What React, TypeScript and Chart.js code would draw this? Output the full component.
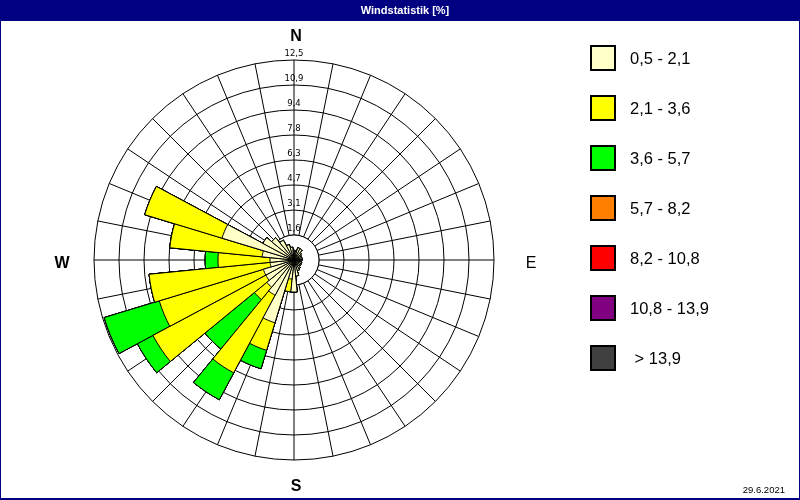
import { useEffect, useRef } from 'react';
import { Chart, registerables } from 'chart.js';

Chart.register(...registerables);

// ---- data ----
const chartTitle = 'Windstatistik [%]';
const chartDate = '29.6.2021';
const directions = [
  'N', 'NzO', 'NNO', 'NOzN', 'NO', 'NOzO', 'ONO', 'OzN',
  'O', 'OzS', 'OSO', 'SOzO', 'SO', 'SOzS', 'SSO', 'SzO',
  'S', 'SzW', 'SSW', 'SWzS', 'SW', 'SWzW', 'WSW', 'WzS',
  'W', 'WzN', 'WNW', 'NWzW', 'NW', 'NWzN', 'NNW', 'NzW',
];
const compassLabels = ['N', 'E', 'S', 'W'];
const tickLabels = ['1,6', '3,1', '4,7', '6,3', '7,8', '9,4', '10,9', '12,5'];
const classLabels = ['0,5 - 2,1', '2,1 - 3,6', '3,6 - 5,7', '5,7 - 8,2', '8,2 - 10,8', '10,8 - 13,9', '> 13,9'];
const classColors = ['#FFFFC8', '#FFFF00', '#00FF00', '#FF8000', '#FF0000', '#800080', '#404040'];

// frequency [%] per direction (N clockwise, 32 sectors) for each speed class
const class1 = [0.6, 0.5, 0.8, 0.8, 0.6, 0.5, 0.5, 0.5, 0.5, 0.4, 0.5, 0.5, 0.5, 0.6, 0.7, 1.0,
  2.0, 1.2, 4.1, 2.5, 2.2, 2.0, 2.0, 1.5, 1.5, 2.0, 4.7, 2.2, 1.8, 1.4, 1.0, 0.8];
const class2 = [0, 0, 0, 0, 0, 0, 0, 0, 0, 0, 0, 0, 0, 0, 0, 0,
  0, 0.8, 1.8, 5.5, 1.0, 8.0, 6.8, 7.6, 3.25, 5.8, 5.05, 0, 0, 0, 0, 0];
const class3 = [0, 0, 0, 0, 0, 0, 0, 0, 0, 0, 0, 0, 0, 0, 0, 0,
  0, 0, 1.2, 1.9, 4.0, 1.1, 3.6, 0, 0.8, 0, 0, 0, 0, 0, 0, 0];
const class4 = new Array(32).fill(0);
const class5 = new Array(32).fill(0);
const class6 = new Array(32).fill(0);
const class7 = new Array(32).fill(0);
const classes = [class1, class2, class3, class4, class5, class6, class7];

const SECTOR = 360 / directions.length;

function buildDatasets() {
  const running = new Array(directions.length).fill(0);
  return classes.map((cls, k) => {
    for (let i = 0; i < running.length; i++) running[i] += cls[i];
    const cum = running.slice();
    // north sector is split in two halves so that every sector is centred on its direction
    const data = [...cum, cum[0]];
    return {
      label: classLabels[k],
      data,
      backgroundColor: classColors[k],
      borderColor: '#000',
      borderWidth: 1,
      angle: (ctx: any) => (ctx.dataIndex === 0 || ctx.dataIndex === directions.length ? SECTOR / 2 : SECTOR),
    };
  });
}

const FONT = '"Liberation Sans", Arial, sans-serif';

const decor = {
  id: 'windDecor',
  beforeDraw(chart: any) {
    const { ctx, width, height } = chart;
    ctx.save();
    ctx.fillStyle = '#fff';
    ctx.fillRect(0, 0, width, height);
    ctx.fillStyle = '#000080';
    ctx.fillRect(0, 0, width, 21);
    ctx.fillStyle = '#fff';
    ctx.font = `bold 11px ${FONT}`;
    ctx.textAlign = 'center';
    ctx.textBaseline = 'middle';
    ctx.fillText(chartTitle, 405, 11);
    ctx.restore();
  },
  beforeDatasetsDraw(chart: any) {
    const s = chart.scales.r;
    const ctx = chart.ctx;
    const r = s.getDistanceFromCenterForValue(s.ticks[1].value);
    ctx.save();
    ctx.beginPath();
    ctx.arc(s.xCenter, s.yCenter, r, 0, Math.PI * 2);
    ctx.fillStyle = '#fff';
    ctx.fill();
    ctx.strokeStyle = '#000';
    ctx.lineWidth = 1;
    ctx.stroke();
    ctx.restore();
  },
  afterDatasetsDraw(chart: any) {
    const s = chart.scales.r;
    const ctx = chart.ctx;
    ctx.save();
    ctx.fillStyle = '#000';
    ctx.font = `8.5px "DejaVu Sans", sans-serif`;
    ctx.textAlign = 'center';
    ctx.textBaseline = 'alphabetic';
    s.ticks.forEach((t: any, i: number) => {
      if (i === 0) return;
      const d = s.getDistanceFromCenterForValue(t.value);
      ctx.fillText(tickLabels[i - 1], s.xCenter, s.yCenter - d - 4.5);
    });
    // compass labels
    const off = [
      [2, -223], [237, 4], [2, 227], [-232, 4],
    ];
    ctx.textBaseline = 'middle';
    compassLabels.forEach((lab, i) => {
      ctx.font = i === 1 ? `16px ${FONT}` : `bold 16px ${FONT}`;
      ctx.fillText(lab, s.xCenter + off[i][0], s.yCenter + off[i][1]);
    });
    ctx.restore();
  },
  afterDraw(chart: any) {
    const ctx = chart.ctx;
    ctx.save();
    // legend
    chart.data.datasets.forEach((ds: any, i: number) => {
      const y = 46 + i * 50;
      ctx.fillStyle = ds.backgroundColor;
      ctx.fillRect(591, y, 24, 24);
      ctx.strokeStyle = '#000';
      ctx.lineWidth = 2;
      ctx.strokeRect(591, y, 24, 24);
      ctx.fillStyle = '#000';
      ctx.font = `16.5px ${FONT}`;
      ctx.textAlign = 'left';
      ctx.textBaseline = 'middle';
      const txt = ds.label.startsWith('>') ? ' ' + ds.label : ds.label;
      ctx.fillText(txt, 630, y + 13);
    });
    // date
    ctx.font = `9.5px ${FONT}`;
    ctx.textAlign = 'right';
    ctx.textBaseline = 'middle';
    ctx.fillText(chartDate, 785, 490);
    // frame
    ctx.strokeStyle = '#000080';
    ctx.lineWidth = 1;
    ctx.strokeRect(0.5, 0.5, chart.width - 1, chart.height - 1);
    ctx.fillStyle = '#000080';
    ctx.fillRect(0, chart.height - 2, chart.width, 2);
    ctx.restore();
  },
};

export default function App() {
  const ref = useRef<HTMLCanvasElement | null>(null);
  useEffect(() => {
    if (!ref.current) return;
    const chart = new Chart(ref.current, {
      type: 'polarArea',
      data: { labels: directions, datasets: buildDatasets() as any },
      options: {
        responsive: false,
        animation: false,
        devicePixelRatio: 1,
        layout: { padding: { left: 94, right: 306, top: 60, bottom: 40 } },
        scales: {
          r: {
            min: 0,
            max: 12.5,
            startAngle: 0,
            ticks: { display: false, stepSize: 12.5 / 8 },
            grid: { color: '#000', lineWidth: 1, circular: true },
            angleLines: { display: true, color: '#000', lineWidth: 1 },
            pointLabels: { display: false },
          },
        },
        plugins: {
          legend: { display: false },
          tooltip: { enabled: false },
          title: { display: false },
        },
      } as any,
      plugins: [decor],
    });
    return () => chart.destroy();
  }, []);
  return (
    <div style={{ position: 'fixed', left: 0, top: 0, width: 800, height: 500 }}>
      <canvas ref={ref} width={800} height={500} style={{ display: 'block' }} />
    </div>
  );
}
